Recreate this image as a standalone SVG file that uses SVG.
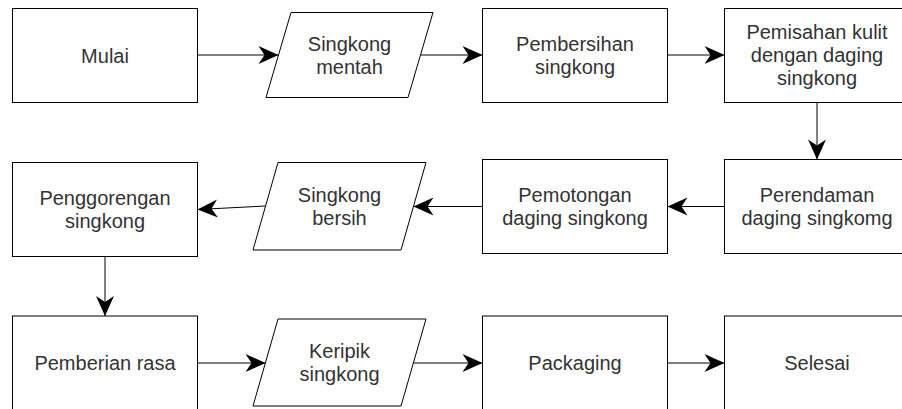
<svg xmlns="http://www.w3.org/2000/svg" width="902" height="409" viewBox="0 0 902 409">
<defs>
<style>
.n{fill:#fff;stroke:#000;stroke-width:1}
.t{font-family:"Liberation Sans",Arial,sans-serif;font-size:20px;fill:#333;text-anchor:middle}
.c{fill:none;stroke:#000;stroke-width:1}
</style>
<marker id="arr" viewBox="-21 -11 22 22" markerWidth="22" markerHeight="22" refX="0" refY="0" orient="auto" markerUnits="userSpaceOnUse">
<path d="M0,0 L-20,-9 L-14,0 L-20,9 Z" fill="#000" stroke="none"/>
</marker>
</defs>
<rect width="902" height="409" fill="#fff"/>
<g id="connectors">
<line class="c" x1="197.5" y1="55" x2="278.5" y2="55" marker-end="url(#arr)"/>
<line class="c" x1="420.5" y1="55" x2="482.5" y2="55" marker-end="url(#arr)"/>
<line class="c" x1="667.5" y1="55" x2="724.5" y2="55" marker-end="url(#arr)"/>
<line class="c" x1="817" y1="102.5" x2="817" y2="159.5" marker-end="url(#arr)"/>
<line class="c" x1="724.5" y1="206.5" x2="667.5" y2="206.5" marker-end="url(#arr)"/>
<line class="c" x1="482.5" y1="206.5" x2="413.5" y2="206.5" marker-end="url(#arr)"/>
<line class="c" x1="265.5" y1="206" x2="197.5" y2="209.5" marker-end="url(#arr)"/>
<line class="c" x1="105" y1="256.5" x2="105" y2="316" marker-end="url(#arr)"/>
<line class="c" x1="197.5" y1="363" x2="265.5" y2="363" marker-end="url(#arr)"/>
<line class="c" x1="413.5" y1="363" x2="482.5" y2="363" marker-end="url(#arr)"/>
<line class="c" x1="667.5" y1="363" x2="724.5" y2="363" marker-end="url(#arr)"/>
</g>
<g id="mulai">
<rect class="n" x="12.5" y="8.5" width="185" height="94"/>
<text class="t" x="105" y="62.5">Mulai</text>
</g>
<g id="singkong-mentah">
<polygon class="n" points="291,12.5 433,12.5 408,97.5 266,97.5"/>
<text class="t" x="349.5" y="50.5">Singkong</text>
<text class="t" x="349.5" y="73.5">mentah</text>
</g>
<g id="pembersihan">
<rect class="n" x="482.5" y="8.5" width="185" height="94"/>
<text class="t" x="575" y="50.5">Pembersihan</text>
<text class="t" x="575" y="73.5">singkong</text>
</g>
<g id="pemisahan">
<rect class="n" x="724.5" y="8.5" width="185" height="94"/>
<text class="t" x="817" y="39">Pemisahan kulit</text>
<text class="t" x="817" y="62">dengan daging</text>
<text class="t" x="817" y="85">singkong</text>
</g>
<g id="perendaman">
<rect class="n" x="724.5" y="159.5" width="185" height="94"/>
<text class="t" x="817" y="202">Perendaman</text>
<text class="t" x="817" y="225">daging singkomg</text>
</g>
<g id="pemotongan">
<rect class="n" x="482.5" y="159.5" width="185" height="94"/>
<text class="t" x="575" y="202">Pemotongan</text>
<text class="t" x="575" y="225">daging singkong</text>
</g>
<g id="singkong-bersih">
<polygon class="n" points="278,162.5 426,162.5 401,250 253,250"/>
<text class="t" x="339.5" y="201.5">Singkong</text>
<text class="t" x="339.5" y="224.5">bersih</text>
</g>
<g id="penggorengan">
<rect class="n" x="12.5" y="162.5" width="185" height="94"/>
<text class="t" x="105" y="205">Penggorengan</text>
<text class="t" x="105" y="228">singkong</text>
</g>
<g id="pemberian">
<rect class="n" x="12.5" y="316" width="185" height="94"/>
<text class="t" x="105" y="370">Pemberian rasa</text>
</g>
<g id="keripik">
<polygon class="n" points="278,319 426,319 401,406 253,406"/>
<text class="t" x="339.5" y="358">Keripik</text>
<text class="t" x="339.5" y="381">singkong</text>
</g>
<g id="packaging">
<rect class="n" x="482.5" y="316" width="185" height="94"/>
<text class="t" x="575" y="370">Packaging</text>
</g>
<g id="selesai">
<rect class="n" x="724.5" y="316" width="185" height="94"/>
<text class="t" x="817" y="370">Selesai</text>
</g>
</svg>
